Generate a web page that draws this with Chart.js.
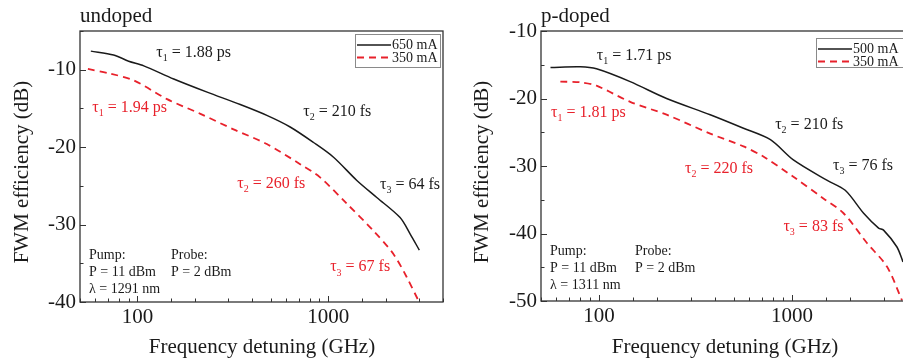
<!DOCTYPE html>
<html>
<head>
<meta charset="utf-8">
<script src="https://cdn.jsdelivr.net/npm/chart.js@4.4.1/dist/chart.umd.min.js"></script>
<style>
    html, body { margin: 0; padding: 0; background: #fff; overflow: hidden; }
    body { width: 903px; height: 362px; position: relative; }
    #left { position: absolute; left: 0; top: 0; }
    #right { position: absolute; left: 450px; top: 0; }
</style>
</head>
<body>
<canvas id="left" width="450" height="362"></canvas>
<canvas id="right" width="462" height="362"></canvas>
<script>
// undoped panel
const undopedFreq650 = [57, 75, 90, 108, 155, 232, 346, 477, 632, 838, 1067, 1414, 1798, 2383, 2688, 3006];
const undopedEff650 = [-7.6, -8.1, -8.9, -9.5, -11.2, -12.9, -14.5, -15.9, -17.4, -19.4, -21.3, -24.3, -26.5, -29.1, -31.2, -33.3];
const undopedFreq350 = [55, 72, 96, 143, 214, 319, 477, 713, 907, 1252, 1727, 2198, 2583, 2970];
const undopedEff350 = [-9.9, -10.5, -11.4, -13.8, -15.7, -17.7, -19.6, -22.2, -23.9, -27.3, -30.8, -33.8, -36.8, -39.8];

// p-doped panel
const pdopedFreq500 = [56, 80, 97, 145, 224, 377, 561, 774, 1018, 1517, 1890, 2355, 2815, 2987, 3506, 3766];
const pdopedEff500 = [-15.4, -15.3, -15.6, -17.5, -20.0, -22.4, -24.4, -26.1, -29.1, -32.1, -33.6, -37.0, -39.2, -39.5, -42.0, -44.2];
const pdopedFreq350 = [63, 80, 97, 145, 224, 377, 561, 711, 1018, 1456, 1853, 2450, 3110, 3724];
const pdopedEff350 = [-17.5, -17.6, -18.1, -20.5, -22.4, -25.2, -27.1, -28.6, -31.6, -34.8, -37.0, -41.4, -44.9, -49.9];

const xTickLabels = [100, 1000];

const FONT = '"Liberation Serif", "Times New Roman", "DejaVu Serif", serif';
const INK = '#1a1a1a';
const RED = '#e8212b';

function toPoints(xs, ys) {
    return xs.map((x, i) => ({ x: x, y: ys[i] }));
}

function blackSet(label, xs, ys) {
    return { label: label, data: toPoints(xs, ys), borderColor: INK, borderWidth: 1.5,
        pointRadius: 0, fill: false, tension: 0.3 };
}

function redSet(label, xs, ys) {
    return { label: label, data: toPoints(xs, ys), borderColor: RED, borderWidth: 1.8,
        borderDash: [7, 5], pointRadius: 0, fill: false, tension: 0.3 };
}

function tau(ctx, x, y, sub, rest, color) {
    ctx.fillStyle = color;
    ctx.textBaseline = 'middle';
    ctx.textAlign = 'left';
    ctx.font = '16px ' + FONT;
    ctx.fillText('\u03c4', x, y);
    let w = ctx.measureText('\u03c4').width;
    ctx.font = '10px ' + FONT;
    ctx.fillText(sub, x + w, y + 6);
    w += ctx.measureText(sub).width;
    ctx.font = '16px ' + FONT;
    ctx.fillText(' = ' + rest, x + w, y);
}

// draws frame, inward ticks, legend, labels and notes
function makeDecor(info) {
    return {
        id: 'decor',
        afterDraw(chart) {
            const ctx = chart.ctx, a = chart.chartArea;
            const xs = chart.scales.x, ys = chart.scales.y;
            ctx.save();

            ctx.strokeStyle = '#333';
            ctx.lineWidth = 1.3;
            ctx.strokeRect(a.left, a.top, a.right - a.left, a.bottom - a.top);

            ctx.lineWidth = 1;
            ctx.beginPath();
            xs.ticks.forEach(t => {
                const lg = Math.log10(t.value);
                const major = Math.abs(lg - Math.round(lg)) < 1e-6;
                const px = Math.round(xs.getPixelForValue(t.value)) + 0.5;
                ctx.moveTo(px, a.bottom);
                ctx.lineTo(px, a.bottom - (major ? 6 : 3.5));
            });
            ys.ticks.forEach(t => {
                const major = t.value % 10 === 0;
                const py = Math.round(ys.getPixelForValue(t.value)) + 0.5;
                ctx.moveTo(a.left, py);
                ctx.lineTo(a.left + (major ? 6 : 3.5), py);
            });
            ctx.stroke();

            // legend
            const L = info.legend;
            ctx.strokeStyle = '#8a8a8a';
            ctx.lineWidth = 1;
            ctx.strokeRect(L.x + 0.5, L.y + 0.5, L.w, L.h);
            ctx.font = '14px ' + FONT;
            ctx.textBaseline = 'middle';
            ctx.textAlign = 'left';
            chart.data.datasets.forEach((ds, i) => {
                const ry = L.y + 11 + i * 12.5;
                ctx.strokeStyle = ds.borderColor;
                ctx.lineWidth = ds.borderWidth;
                ctx.setLineDash(ds.borderDash || []);
                ctx.beginPath();
                ctx.moveTo(L.x + 2, ry);
                ctx.lineTo(L.x + 36, ry);
                ctx.stroke();
                ctx.setLineDash([]);
                ctx.fillStyle = INK;
                ctx.fillText(ds.label, L.x + 37, ry + 0.5);
            });

            // panel title
            ctx.fillStyle = INK;
            ctx.font = '21px ' + FONT;
            ctx.fillText(info.title, a.left, 16);

            // axis titles
            ctx.textAlign = 'center';
            ctx.fillText('Frequency detuning (GHz)', info.xTitleX, 347);
            ctx.save();
            ctx.translate(info.yTitleX, 172);
            ctx.rotate(-Math.PI / 2);
            ctx.fillText('FWM efficiency (dB)', 0, 0);
            ctx.restore();

            // time constants
            info.taus.forEach(t => {
                tau(ctx, xs.getPixelForValue(t[0]), ys.getPixelForValue(t[1]), t[2], t[3], t[4]);
            });

            // pump / probe notes
            ctx.fillStyle = INK;
            ctx.font = '14px ' + FONT;
            ctx.textAlign = 'left';
            const n = info.notes;
            ctx.fillText('Pump:', n.x, n.y);
            ctx.fillText('P = 11 dBm', n.x, n.y + 17);
            ctx.fillText('\u03bb = ' + info.wavelength, n.x, n.y + 34);
            ctx.fillText('Probe:', n.x2, n.y);
            ctx.fillText('P = 2 dBm', n.x2, n.y + 17);

            ctx.restore();
        }
    };
}

function makePanel(id, datasets, yMin, yMax, yWidth, xHeight, rightPad, info) {
    return new Chart(document.getElementById(id), {
        type: 'line',
        data: { datasets: datasets },
        options: {
            responsive: false,
            animation: false,
            layout: { padding: { top: 31, right: rightPad, left: 0, bottom: 0 } },
            plugins: { legend: { display: false }, tooltip: { enabled: false } },
            scales: {
                x: {
                    type: 'logarithmic', min: 50, max: 4000,
                    grid: { display: false, drawTicks: false },
                    border: { display: false },
                    ticks: {
                        autoSkip: false, maxRotation: 0, padding: 3, color: INK,
                        font: { family: FONT, size: 21 },
                        callback: v => xTickLabels.includes(Math.round(v)) ? String(Math.round(v)) : ''
                    },
                    afterFit: s => { s.height = xHeight; }
                },
                y: {
                    min: yMin, max: yMax,
                    grid: { display: false, drawTicks: false },
                    border: { display: false },
                    ticks: {
                        stepSize: 5, autoSkip: false, padding: 4, color: INK,
                        font: { family: FONT, size: 21 },
                        callback: v => v % 10 === 0 ? String(v) : ''
                    },
                    afterFit: s => { s.width = yWidth; }
                }
            }
        },
        plugins: [makeDecor(info)]
    });
}

makePanel('left', [
    blackSet('650 mA', undopedFreq650, undopedEff650),
    redSet('350 mA', undopedFreq350, undopedEff350)
], -40, -5, 80, 60, 7, {
    title: 'undoped',
    wavelength: '1291 nm',
    legend: { x: 355, y: 34, w: 85, h: 33 },
    xTitleX: 262, yTitleX: 22,
    notes: { x: 89, x2: 171, y: 255 },
    taus: [
        [125.7, -7.8, '1', '1.88 ps', INK],
        [58, -14.9, '1', '1.94 ps', RED],
        [740, -15.4, '2', '210 fs', INK],
        [334, -24.7, '2', '260 fs', RED],
        [1871, -24.8, '3', '64 fs', INK],
        [1024, -35.5, '3', '67 fs', RED]
    ]
});

makePanel('right', [
    blackSet('500 mA', pdopedFreq500, pdopedEff500),
    redSet('350 mA', pdopedFreq350, pdopedEff350)
], -50, -10, 91, 61, 4, {
    title: 'p-doped',
    wavelength: '1311 nm',
    legend: { x: 366, y: 38, w: 90, h: 29 },
    xTitleX: 275, yTitleX: 32,
    notes: { x: 100, x2: 185, y: 251 },
    taus: [
        [97.3, -13.6, '1', '1.71 ps', INK],
        [56.4, -22.1, '1', '1.81 ps', RED],
        [819, -23.9, '2', '210 fs', INK],
        [279, -30.4, '2', '220 fs', RED],
        [1633, -29.9, '3', '76 fs', INK],
        [904, -39.0, '3', '83 fs', RED]
    ]
});
</script>
</body>
</html>
